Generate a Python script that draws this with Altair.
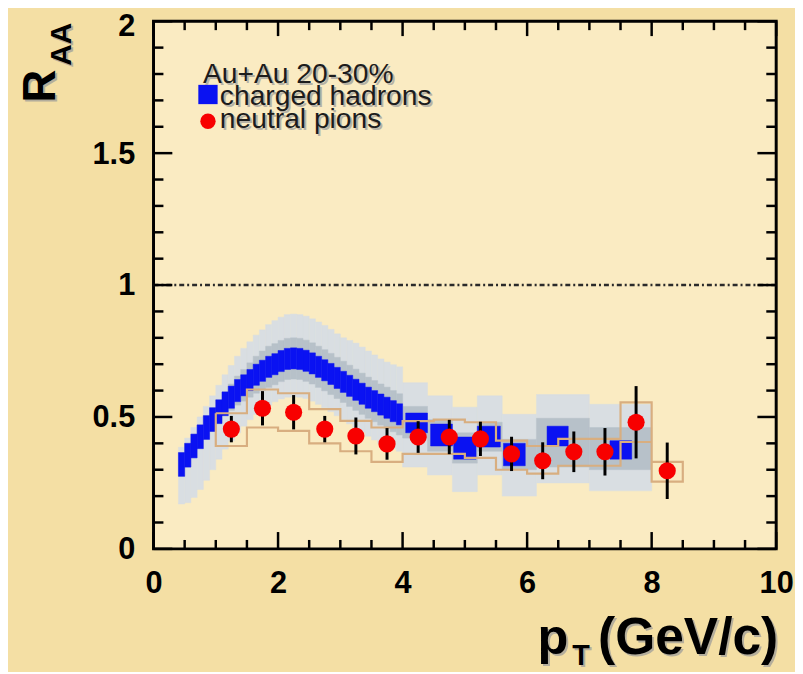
import altair as alt
import pandas as pd

W, H = 629, 533

# ---------------- charged hadrons: fine bins (0.1 GeV/c wide) ----------------
ch_pt = [0.45, 0.55, 0.65, 0.75, 0.85, 0.95, 1.05, 1.15, 1.25, 1.35,
         1.45, 1.55, 1.65, 1.75, 1.85, 1.95, 2.05, 2.15, 2.25, 2.35,
         2.45, 2.55, 2.65, 2.75, 2.85, 2.95, 3.05, 3.15, 3.25, 3.35,
         3.45, 3.55, 3.65, 3.75, 3.85, 3.95]
ch_val = [0.32, 0.355, 0.39, 0.425, 0.46, 0.49, 0.52, 0.55, 0.575, 0.60,
          0.62, 0.64, 0.66, 0.675, 0.69, 0.70, 0.712, 0.72, 0.722, 0.72,
          0.713, 0.703, 0.69, 0.677, 0.663, 0.648, 0.633, 0.618, 0.603, 0.588,
          0.573, 0.56, 0.547, 0.535, 0.522, 0.51]
ch_stat = [0.045, 0.045, 0.045, 0.045, 0.045, 0.045, 0.045, 0.045, 0.042, 0.042,
           0.04, 0.04, 0.04, 0.04, 0.04, 0.04, 0.04, 0.04, 0.04, 0.04,
           0.04, 0.04, 0.04, 0.04, 0.04, 0.04, 0.04, 0.04, 0.04, 0.04,
           0.04, 0.04, 0.04, 0.04, 0.04, 0.04]
ch_mid = [0.045, 0.045, 0.045, 0.045, 0.045, 0.045, 0.045, 0.045, 0.05, 0.055,
          0.06, 0.065, 0.07, 0.075, 0.078, 0.078, 0.078, 0.078, 0.078, 0.078,
          0.078, 0.078, 0.078, 0.078, 0.078, 0.078, 0.078, 0.078, 0.078, 0.078,
          0.078, 0.078, 0.078, 0.078, 0.078, 0.078]
ch_sys_lo = [0.17, 0.175, 0.195, 0.225, 0.26, 0.30, 0.34, 0.378, 0.41, 0.44,
             0.465, 0.49, 0.51, 0.53, 0.545, 0.558, 0.568, 0.575, 0.577, 0.575,
             0.57, 0.56, 0.548, 0.535, 0.52, 0.505, 0.49, 0.474, 0.458, 0.442,
             0.427, 0.413, 0.40, 0.39, 0.38, 0.37]
ch_sys_hi = [0.385, 0.42, 0.46, 0.50, 0.54, 0.58, 0.62, 0.66, 0.695, 0.73,
             0.76, 0.785, 0.81, 0.83, 0.85, 0.865, 0.878, 0.888, 0.89, 0.888,
             0.882, 0.872, 0.86, 0.847, 0.832, 0.815, 0.80, 0.79, 0.78, 0.765,
             0.75, 0.735, 0.72, 0.708, 0.698, 0.69]
ch_halfbin = 0.05

# ---------------- charged hadrons: coarse bins at high pT ----------------
chc_x1 = [4.0, 4.4, 4.8, 5.2, 5.6, 6.15, 7.0]
chc_x2 = [4.4, 4.8, 5.2, 5.6, 6.15, 7.0, 8.0]
chc_sys_lo = [0.31, 0.28, 0.217, 0.28, 0.20, 0.25, 0.22]
chc_sys_hi = [0.63, 0.58, 0.537, 0.58, 0.51, 0.585, 0.548]
chc_mid_lo = [0.42, 0.37, 0.325, 0.37, 0.30, 0.31, 0.30]
chc_mid_hi = [0.54, 0.49, 0.44, 0.48, 0.415, 0.495, 0.46]
chb_x1 = [4.05, 4.45, 4.82, 5.2, 5.62, 6.32, 7.33]
chb_x2 = [4.4, 4.8, 5.18, 5.57, 5.97, 6.66, 7.68]
chb_lo = [0.44, 0.39, 0.34, 0.386, 0.315, 0.39, 0.34]
chb_hi = [0.515, 0.473, 0.424, 0.465, 0.40, 0.465, 0.41]

# ---------------- neutral pions ----------------
pi_pt = [1.25, 1.75, 2.25, 2.75, 3.25, 3.75, 4.25, 4.75, 5.25, 5.75,
         6.25, 6.75, 7.25, 7.75, 8.25]
pi_val = [0.454, 0.533, 0.518, 0.454, 0.428, 0.398, 0.424, 0.424, 0.417, 0.36,
          0.334, 0.368, 0.368, 0.48, 0.296]
pi_stat = [0.05, 0.065, 0.065, 0.05, 0.07, 0.06, 0.06, 0.065, 0.065, 0.065,
           0.07, 0.077, 0.09, 0.137, 0.107]
pi_sys_lo = [0.39, 0.46, 0.447, 0.40, 0.37, 0.33, 0.36, 0.36, 0.345, 0.30,
             0.285, 0.315, 0.315, 0.405, 0.255]
pi_sys_hi = [0.514, 0.604, 0.59, 0.53, 0.485, 0.46, 0.484, 0.49, 0.48, 0.41,
             0.39, 0.417, 0.417, 0.555, 0.33]
pi_halfbin = 0.25

# ---------------- axes ----------------
x_major = [0, 2, 4, 6, 8, 10]
x_minor = [0.5, 1, 1.5, 2.5, 3, 3.5, 4.5, 5, 5.5, 6.5, 7, 7.5, 8.5, 9, 9.5]
y_major = [0, 0.5, 1, 1.5, 2]
y_minor = [0.1, 0.2, 0.3, 0.4, 0.6, 0.7, 0.8, 0.9, 1.1, 1.2, 1.3, 1.4,
           1.6, 1.7, 1.8, 1.9]

LIGHT = "#D9DEE2"
MID = "#B7C1C9"
BLUE = "#0A12F2"
RED = "#F80000"
TAN = "#D8AE80"
FONT = "Liberation Sans"

xs = alt.Scale(domain=[0, 10], nice=False, zero=False)
ys = alt.Scale(domain=[0, 2], nice=False, zero=False)
XAX = alt.Axis(values=x_major, format="d", ticks=False, domain=False, grid=False, title=None,
               labelFont=FONT, labelFontWeight="bold", labelFontSize=31, labelColor="black",
               labelPadding=20, labelFlush=False, labelOverlap=False)
YAX = alt.Axis(values=y_major, labelExpr="datum.value + ''", ticks=False, domain=False,
               grid=False, title=None, labelFont=FONT, labelFontWeight="bold",
               labelFontSize=31, labelColor="black", labelPadding=19, labelFlush=False,
               labelOverlap=False,
               labelOffset={"condition": {"test": "datum.value == 2", "value": 5}, "value": 1})


def X(f):
    return alt.X(f, scale=xs, axis=XAX, title=None)


def Y(f):
    return alt.Y(f, scale=ys, axis=YAX, title=None)


fine = pd.DataFrame({"pt": ch_pt, "v": ch_val, "st": ch_stat, "mid": ch_mid,
                     "lo": ch_sys_lo, "hi": ch_sys_hi})
fine["x1"] = fine.pt - ch_halfbin
fine["x2"] = fine.pt + ch_halfbin
fine["b1"] = fine.v - fine.st
fine["b2"] = fine.v + fine.st
fine["m1"] = fine.v - fine["mid"]
fine["m2"] = fine.v + fine["mid"]

coarse = pd.DataFrame({"x1": chc_x1, "x2": chc_x2, "lo": chc_sys_lo, "hi": chc_sys_hi,
                       "m1": chc_mid_lo, "m2": chc_mid_hi})
blueb = pd.DataFrame({"x1": chb_x1, "x2": chb_x2, "b1": chb_lo, "b2": chb_hi})

light_df = pd.concat([fine[["x1", "x2", "lo", "hi"]], coarse[["x1", "x2", "lo", "hi"]]])
mid_df = pd.concat([fine[["x1", "x2", "m1", "m2"]], coarse[["x1", "x2", "m1", "m2"]]])
blue_df = pd.concat([fine[["x1", "x2", "b1", "b2"]], blueb])


def rects(df, a, b, color):
    return alt.Chart(df).mark_rect(color=color, stroke=color, strokeWidth=0.5).encode(
        x=X("x1:Q"), x2="x2:Q", y=Y(a + ":Q"), y2=b + ":Q")


# neutral pion systematic outline (stepped)
ox, oy, oo = [], [], []
k = 0
for p, h in zip(pi_pt, pi_sys_hi):
    for xx in (p - pi_halfbin, p + pi_halfbin):
        ox.append(xx); oy.append(h); oo.append(k); k += 1
for p, l in reversed(list(zip(pi_pt, pi_sys_lo))):
    for xx in (p + pi_halfbin, p - pi_halfbin):
        ox.append(xx); oy.append(l); oo.append(k); k += 1
ox.append(ox[0]); oy.append(oy[0]); oo.append(k)
outline = pd.DataFrame({"x": ox, "y": oy, "o": oo})

pi = pd.DataFrame({"pt": pi_pt, "v": pi_val, "st": pi_stat})
pi["e1"] = pi.v - pi.st
pi["e2"] = pi.v + pi.st

light = rects(light_df, "lo", "hi", LIGHT)
mid = rects(mid_df, "m1", "m2", MID)
blue = rects(blue_df, "b1", "b2", BLUE)

sys_line = alt.Chart(outline).mark_line(color=TAN, strokeWidth=2.2).encode(
    x=X("x:Q"), y=Y("y:Q"), order="o:Q")

unity = alt.Chart(pd.DataFrame({"y": [1.0]})).mark_rule(
    color="#2a2a2a", strokeWidth=2.5, strokeDash=[5, 3, 2, 3]).encode(y=Y("y:Q"))

errs = alt.Chart(pi).mark_rule(color="black", strokeWidth=3).encode(
    x=X("pt:Q"), y=Y("e1:Q"), y2="e2:Q")
pts = alt.Chart(pi).mark_circle(color=RED, size=300, opacity=1).encode(
    x=X("pt:Q"), y=Y("v:Q"))


def xticks(vals, length, top):
    d = pd.DataFrame({"v": vals})
    if top:
        return alt.Chart(d).mark_rule(color="black", strokeWidth=2.5).encode(
            x=X("v:Q"), y=alt.value(0), y2=alt.value(length))
    return alt.Chart(d).mark_rule(color="black", strokeWidth=2.5).encode(
        x=X("v:Q"), y=alt.value(H), y2=alt.value(H - length))


def yticks(vals, length, right):
    d = pd.DataFrame({"v": vals})
    if right:
        return alt.Chart(d).mark_rule(color="black", strokeWidth=2.5).encode(
            y=Y("v:Q"), x=alt.value(W), x2=alt.value(W - length))
    return alt.Chart(d).mark_rule(color="black", strokeWidth=2.5).encode(
        y=Y("v:Q"), x=alt.value(0), x2=alt.value(length))


ticks = [xticks(x_major, 17, False), xticks(x_minor, 9, False),
         xticks(x_major, 15, True), xticks(x_minor, 9, True),
         yticks(y_major, 19, False), yticks(y_minor, 10, False),
         yticks(y_major, 19, True), yticks(y_minor, 10, True)]


def label(text, x, y, size, weight="normal", angle=0, color="#1c1c1c", shadow=True):
    d = pd.DataFrame({"t": [text]})
    out = []
    if shadow:
        out.append(alt.Chart(d).mark_text(
            font=FONT, fontSize=size, fontWeight=weight, angle=angle, align="left",
            baseline="alphabetic", color="#9a9a9a", opacity=0.7).encode(
            x=alt.value(x + 2), y=alt.value(y + 2), text="t:N"))
    out.append(alt.Chart(d).mark_text(
        font=FONT, fontSize=size, fontWeight=weight, angle=angle, align="left",
        baseline="alphabetic", color=color).encode(
        x=alt.value(x), y=alt.value(y), text="t:N"))
    return out


texts = []
texts += label("Au+Au 20-30%", 50, 62, 28.5)
texts += label("charged hadrons", 67, 85, 28.5)
texts += label("neutral pions", 67, 108, 28.5)
texts += label("R", -100, 82, 46, "bold", 270, "black")
texts += label("AA", -83, 45, 30, "bold", 270, "black")
texts += label("p", 388, 639, 51, "bold", 0, "black")
texts += label("T", 423, 650, 29, "bold", 0, "black")
texts += label("(GeV/c)", 449, 639, 52, "bold", 0, "black")

legend_sq = alt.Chart(pd.DataFrame({"a": [0]})).mark_square(
    color=BLUE, size=380, opacity=1).encode(x=alt.value(55), y=alt.value(74))
legend_ci = alt.Chart(pd.DataFrame({"a": [0]})).mark_circle(
    color=RED, size=240, opacity=1).encode(x=alt.value(55), y=alt.value(101))

chart = alt.layer(light, mid, blue, sys_line, unity, errs, pts,
                  *ticks, legend_sq, legend_ci, *texts).properties(
    width=W, height=H,
    background="#F4DFA4",
    autosize=alt.AutoSizeParams(type="none"),
    padding={"left": 147, "top": 10, "right": 19, "bottom": 121},
).configure_view(fill="#FAEBC2", stroke="black", strokeWidth=3)

chart.save("out.html", embed_options={"renderer": "svg", "actions": False})
